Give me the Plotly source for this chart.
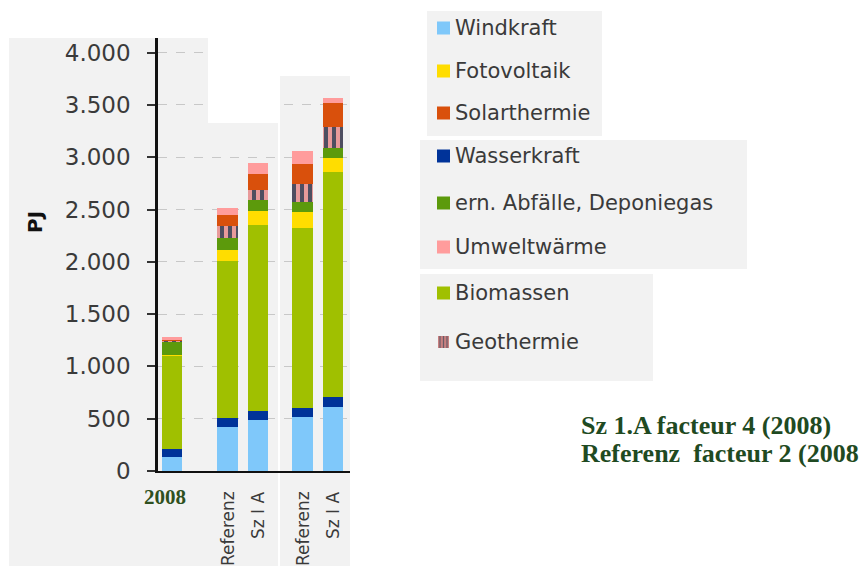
import plotly.graph_objects as go

# ---------------- data ----------------
bar_labels = ["2008", "Referenz", "Sz I A", "Referenz", "Sz I A"]
bar_group = [0, 1, 1, 2, 2]

windkraft = [132, 419, 483, 512, 610]
wasserkraft = [80, 92, 95, 95, 93]
biomassen = [890, 1495, 1770, 1716, 2154]
fotovoltaik = [8, 109, 140, 151, 133]
abfaelle = [131, 114, 103, 102, 100]
geothermie = [5, 110, 95, 170, 197]
solarthermie = [10, 110, 153, 191, 230]
umweltwaerme = [25, 68, 102, 127, 47]

y_ticks = [0, 500, 1000, 1500, 2000, 2500, 3000, 3500, 4000]

legend_groups = [
    ["Windkraft", "Fotovoltaik", "Solarthermie"],
    ["Wasserkraft", "ern. Abfälle, Deponiegas", "Umweltwärme"],
    ["Biomassen", "Geothermie"],
]
note_lines = ["Sz 1.A facteur 4 (2008)", "Referenz  facteur 2 (2008"]

# ---------------- styling ----------------
colors = {
    "Windkraft": "#7fc8fa",
    "Wasserkraft": "#003399",
    "Biomassen": "#a0c000",
    "Fotovoltaik": "#ffdd00",
    "ern. Abfälle, Deponiegas": "#5c9a0c",
    "Geothermie": "#4e4e60",
    "Solarthermie": "#d9500c",
    "Umweltwärme": "#ff9c9c",
}
geo_stripe = "#e89a9a"
grey_bg = "#f2f2f2"

# x positions: index plus extra gap per group
group_gap = [0.0, 0.82, 1.28]
xpos = [i + group_gap[g] for i, g in enumerate(bar_group)]

W, H = 864, 566
L, R, T, B = 158, 350, 38, 471


def px(x):
    return (x - L) / (R - L)


def py(y):
    return (B - y) / (B - T)


series = [
    ("Windkraft", windkraft),
    ("Wasserkraft", wasserkraft),
    ("Biomassen", biomassen),
    ("Fotovoltaik", fotovoltaik),
    ("ern. Abfälle, Deponiegas", abfaelle),
    ("Geothermie", geothermie),
    ("Solarthermie", solarthermie),
    ("Umweltwärme", umweltwaerme),
]

fig = go.Figure()
for name, vals in series:
    marker = dict(color=colors[name], line=dict(width=0))
    if name == "Geothermie":
        marker["pattern"] = dict(shape="|", fgcolor=geo_stripe, bgcolor=colors[name],
                                 size=8, solidity=0.5, fillmode="replace")
    fig.add_trace(go.Bar(x=xpos, y=vals, name=name, marker=marker, width=0.66,
                         showlegend=False, hoverinfo="skip"))

shapes = []
# grey backgrounds
shapes.append(dict(type="rect", xref="paper", yref="paper", x0=px(9), x1=px(208),
                   y0=py(566), y1=py(38), fillcolor=grey_bg, line_width=0, layer="below"))
shapes.append(dict(type="rect", xref="paper", yref="paper", x0=px(208), x1=px(278),
                   y0=py(566), y1=py(123), fillcolor=grey_bg, line_width=0, layer="below"))
shapes.append(dict(type="rect", xref="paper", yref="paper", x0=px(280), x1=px(350),
                   y0=py(566), y1=py(76), fillcolor=grey_bg, line_width=0, layer="below"))
# white cut-outs above grid
shapes.append(dict(type="rect", xref="paper", yref="paper", x0=px(208), x1=px(279),
                   y0=py(123), y1=py(30), fillcolor="white", line_width=0, layer="above"))
shapes.append(dict(type="rect", xref="paper", yref="paper", x0=px(279), x1=px(352),
                   y0=py(76), y1=py(30), fillcolor="white", line_width=0, layer="above"))
shapes.append(dict(type="rect", xref="paper", yref="paper", x0=px(278), x1=px(280),
                   y0=py(566), y1=py(123), fillcolor="white", line_width=0, layer="below"))

# legend boxes
boxes = [(427, 602, 11, 136), (420, 747, 140, 269), (420, 653, 274, 381)]
for x0, x1, y0, y1 in boxes:
    shapes.append(dict(type="rect", xref="paper", yref="paper", x0=px(x0), x1=px(x1),
                       y0=py(y1), y1=py(y0), fillcolor=grey_bg, line_width=0, layer="below"))

annotations = []
row_y = [[28, 71, 113], [156, 203, 247], [293, 342]]
for gi, names in enumerate(legend_groups):
    for ni, name in enumerate(names):
        yc = row_y[gi][ni]
        if name == "Geothermie":
            shapes.append(dict(type="rect", xref="paper", yref="paper", x0=px(438), x1=px(449),
                               y0=py(yc + 6), y1=py(yc - 6), fillcolor="#c88080", line_width=0))
            for sx in (440, 443.5, 447):
                shapes.append(dict(type="line", xref="paper", yref="paper", x0=px(sx), x1=px(sx),
                                   y0=py(yc + 6), y1=py(yc - 6), line=dict(color="#6a5a66", width=1.2)))
        else:
            shapes.append(dict(type="rect", xref="paper", yref="paper", x0=px(437), x1=px(450),
                               y0=py(yc + 6.5), y1=py(yc - 6.5), fillcolor=colors[name], line_width=0))
        annotations.append(dict(xref="paper", yref="paper", x=px(453), y=py(yc), text=name,
                                showarrow=False, xanchor="left", yanchor="middle",
                                font=dict(family="DejaVu Sans", size=21, color="#3a3a3a")))

# x labels
for i, lab in enumerate(bar_labels):
    if bar_group[i] == 0:
        annotations.append(dict(xref="x", yref="paper", x=xpos[i], y=py(497), text="<b>" + lab + "</b>",
                                showarrow=False, xanchor="center", yanchor="middle", xshift=-7,
                                font=dict(family="Liberation Serif", size=21, color="#2f5020")))
    else:
        annotations.append(dict(xref="x", yref="paper", x=xpos[i], y=py(489), text=lab,
                                showarrow=False, xanchor="center", yanchor="top", textangle=-90,
                                font=dict(family="DejaVu Sans", size=17, color="#3a3a3a")))

# y title
annotations.append(dict(xref="paper", yref="paper", x=px(35), y=py(222), text="<b>PJ</b>",
                        showarrow=False, textangle=-90, xanchor="center", yanchor="middle",
                        font=dict(family="DejaVu Sans", size=20, color="#111111")))

# note text
for k, line in enumerate(note_lines):
    annotations.append(dict(xref="paper", yref="paper", x=px(579), y=py(425 + 28 * k),
                            text="<b>" + line + "</b>", showarrow=False, xanchor="left",
                            yanchor="middle",
                            font=dict(family="Liberation Serif", size=26, color="#1f4a22")))

fig.update_layout(
    width=W, height=H, autosize=False,
    margin=dict(l=L, r=W - R, t=T, b=H - B, pad=0),
    paper_bgcolor="white", plot_bgcolor="rgba(0,0,0,0)",
    barmode="stack", bargap=0,
    separators=",.",
    shapes=shapes, annotations=annotations,
    xaxis=dict(range=[-0.46, 5.836], showgrid=False, zeroline=False, showticklabels=False,
               ticks="", showline=True, linecolor="#111111", linewidth=2, fixedrange=True),
    yaxis=dict(range=[0, 4140], tickvals=y_ticks, tickformat=",d", showgrid=True,
               gridcolor="#c8c8c8", griddash="dash", gridwidth=1, zeroline=False,
               showline=True, linecolor="#111111", linewidth=2.5, ticks="outside",
               ticklen=8, tickwidth=2, tickcolor="#333333", ticklabelstandoff=12,
               tickfont=dict(family="DejaVu Sans", size=23, color="#3a3a3a"), fixedrange=True),
)

fig.write_html("out.html", config={"displayModeBar": False},
               post_script="document.body.style.margin='0';")
